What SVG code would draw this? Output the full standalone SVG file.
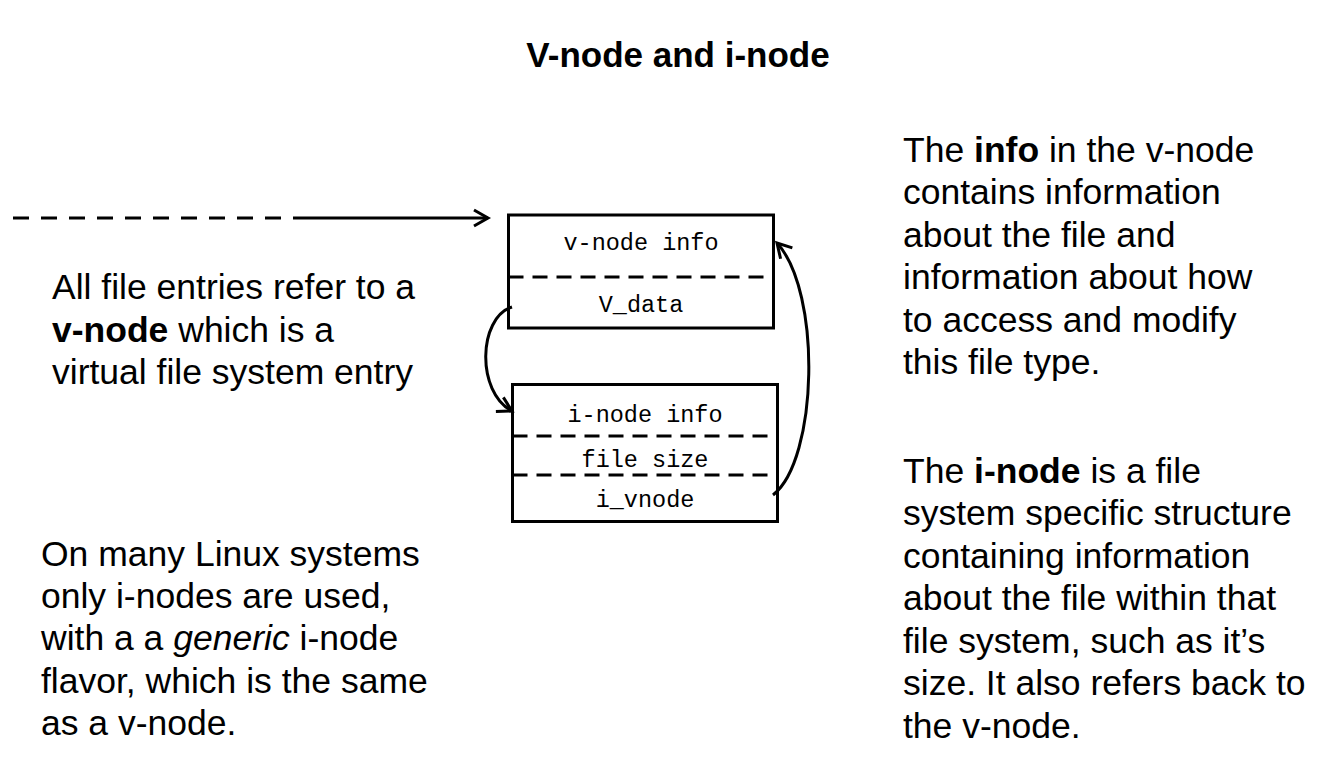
<svg xmlns="http://www.w3.org/2000/svg" width="1330" height="758" viewBox="0 0 1330 758">
<defs>
<style>
.t{font-family:"Liberation Sans",Arial,sans-serif;font-size:35.5px;fill:#000}
.title{font-family:"Liberation Sans",Arial,sans-serif;font-size:35px;font-weight:bold;fill:#000}
.m{font-family:"Liberation Mono","Courier New",monospace;font-size:23.5px;fill:#000;text-anchor:middle}
.box{fill:#fff;stroke:#000;stroke-width:3}
.div{stroke:#000;stroke-width:3;stroke-dasharray:15 9;fill:none}
.ln{stroke:#000;stroke-width:3;fill:none}
</style>
<marker id="ah" viewBox="-16 -10 20 20" refX="0" refY="0" markerWidth="20" markerHeight="20" markerUnits="userSpaceOnUse" orient="auto">
<path d="M-14,-8 L0,0 L-14,8" fill="none" stroke="#000" stroke-width="3" stroke-linejoin="miter"/>
</marker>
</defs>
<rect width="1330" height="758" fill="#fff"/>
<text class="title" x="678" y="67" text-anchor="middle">V-node and i-node</text>

<g id="vnode">
<rect class="box" x="508.5" y="215" width="265" height="113"/>
<line class="div" x1="508.5" y1="277" x2="773.5" y2="277"/>
<text class="m" x="641" y="250">v-node info</text>
<text class="m" x="641" y="312">V_data</text>
</g>

<g id="inode">
<rect class="box" x="512.5" y="384.5" width="265" height="137"/>
<line class="div" x1="512.5" y1="436" x2="777.5" y2="436"/>
<line class="div" x1="512.5" y1="475" x2="777.5" y2="475"/>
<text class="m" x="645" y="422">i-node info</text>
<text class="m" x="645" y="467">file size</text>
<text class="m" x="645" y="507">i_vnode</text>
</g>

<g id="connectors">
<line class="ln" x1="13" y1="218" x2="293" y2="218" stroke-dasharray="16 12"/>
<line class="ln" x1="293" y1="218" x2="488" y2="218" marker-end="url(#ah)"/>
<path class="ln" d="M512,307 C478,318 476,392 512,411" marker-end="url(#ah)"/>
<path class="ln" d="M773,495 C818,460 822,292 777,243" marker-end="url(#ah)"/>
</g>

<g id="text-left-top">
<text class="t" x="52" y="299">All file entries refer to a</text>
<text class="t" x="52" y="342"><tspan font-weight="bold">v-node</tspan> which is a</text>
<text class="t" x="52" y="384">virtual file system entry</text>
</g>

<g id="text-left-bottom">
<text class="t" x="41" y="566">On many Linux systems</text>
<text class="t" x="41" y="608">only i-nodes are used,</text>
<text class="t" x="41" y="650">with a a <tspan font-style="italic">generic</tspan> i-node</text>
<text class="t" x="41" y="693">flavor, which is the same</text>
<text class="t" x="41" y="735">as a v-node.</text>
</g>

<g id="text-right-top">
<text class="t" x="903" y="162">The <tspan font-weight="bold">info</tspan> in the v-node</text>
<text class="t" x="903" y="204">contains information</text>
<text class="t" x="903" y="247">about the file and</text>
<text class="t" x="903" y="289">information about how</text>
<text class="t" x="903" y="332">to access and modify</text>
<text class="t" x="903" y="374">this file type.</text>
</g>

<g id="text-right-bottom">
<text class="t" x="903" y="483">The <tspan font-weight="bold">i-node</tspan> is a file</text>
<text class="t" x="903" y="525">system specific structure</text>
<text class="t" x="903" y="568">containing information</text>
<text class="t" x="903" y="610">about the file within that</text>
<text class="t" x="903" y="653">file system, such as it’s</text>
<text class="t" x="903" y="695">size. It also refers back to</text>
<text class="t" x="903" y="738">the v-node.</text>
</g>
</svg>
